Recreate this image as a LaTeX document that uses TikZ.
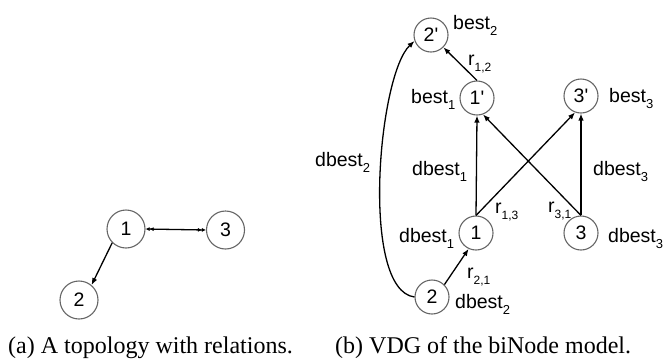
\documentclass[tikz,border=0pt]{standalone}
\usepackage{fontspec}
\setmainfont{Liberation Serif}
\newfontfamily\lsans{Liberation Sans}
\usetikzlibrary{arrows.meta}
% lowered subscript in the label font
\newcommand\sbs[1]{\raisebox{-6pt}{\fontsize{13}{13}\selectfont #1}}
\newcommand\rsbs[1]{\raisebox{-6.5pt}{\fontsize{12}{12}\selectfont #1}}
\tikzset{
  vnode/.style={circle,draw=black!60,line width=1.1pt,inner sep=0pt,
    minimum size=34pt,font=\lsans\fontsize{19.5}{19.5}\selectfont},
  tnode/.style={vnode,minimum size=38pt},
  lbl/.style={anchor=base west,inner sep=0pt,font=\lsans\fontsize{19.5}{19.5}\selectfont},
  rel/.style={draw,line width=1.3pt,-{Latex[length=7pt,width=5.5pt]}},
  brel/.style={draw,line width=1.3pt,
    {Latex[length=4pt,width=4pt] Latex[length=4pt,width=4pt]}-{Latex[length=4pt,width=4pt] Latex[length=4pt,width=4pt]}},
  captext/.style={anchor=base west,inner sep=0pt,font=\fontsize{24}{24}\selectfont}
}
\begin{document}
\begin{tikzpicture}[x=1pt,y=-1pt]
\useasboundingbox (0,0) rectangle (671,360);

% (a) topology
\node[tnode] (L1) at (126,229) {1};
\node[tnode] (L3) at (225.5,230) {3};
\node[tnode] (L2) at (79,300) {2};
\draw[rel] (L1.225) -- (L2.50);
\draw[brel] (L1.east) -- (L3.west);

% (b) VDG
\node[vnode] (P2) at (431,35) {2'};
\node[vnode] (P1) at (477,98) {1'};
\node[vnode] (P3) at (581,96) {3'};
\node[vnode] (N1) at (476,233) {1};
\node[vnode] (N3) at (581,233) {3};
\node[vnode] (N2) at (432,297) {2};

\draw[rel] (P1.north) -- (P2.-45);
\draw[rel] (N1.north) -- (P1.south);
\draw[rel] (N3.north) -- (P3.south);
\draw[rel] (N1.north) -- (P3.250);
\draw[rel] (N3.north) -- (P1.290);
\draw[rel] (N2.45) -- (N1.245);
\draw[rel] (N2.west) .. controls (360,290) and (378,75) .. (P2.200);

% labels
\node[lbl] (b2) at (453,29) {best\sbs{2}};
\node[lbl] (r12) at (468,65) {r\rsbs{1,2}};
\node[lbl] (b1) at (411,103) {best\sbs{1}};
\node[lbl] (b3) at (609,102) {best\sbs{3}};
\node[lbl] (d1m) at (412,175) {dbest\sbs{1}};
\node[lbl] (d3m) at (593,175) {dbest\sbs{3}};
\node[lbl] (d2m) at (315,166) {dbest\sbs{2}};
\node[lbl] (d1) at (399,242) {dbest\sbs{1}};
\node[lbl] (d3) at (608,242) {dbest\sbs{3}};
\node[lbl] (d2) at (455,308) {dbest\sbs{2}};
\node[lbl] (r13) at (495,213) {r\rsbs{1,3}};
\node[lbl] (r31) at (548,212) {r\rsbs{3,1}};
\node[lbl] (r21) at (467,278) {r\rsbs{2,1}};

% captions
\node[captext] (capa) at (8,353) {(a) A topology with relations.};
\node[captext] (capb) at (335,353) {(b) VDG of the biNode model.};
\end{tikzpicture}
\end{document}
